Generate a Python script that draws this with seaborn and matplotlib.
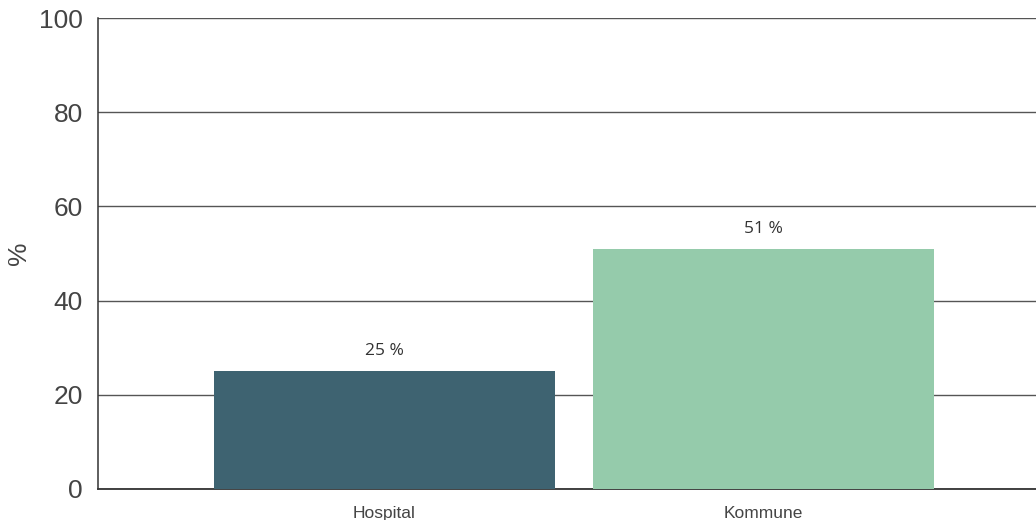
import matplotlib
matplotlib.use("Agg")
import matplotlib.pyplot as plt
import seaborn as sns
import pandas as pd

categories = ["Hospital", "Kommune"]
values = [25, 51]
bar_labels = ["25 %", "51 %"]
colors = ["#3e6371", "#95cbab"]

sns.set_style("white")
plt.rcParams['font.family'] = ['Liberation Sans', 'DejaVu Sans']

df = pd.DataFrame({"kategori": categories, "andel": values})

fig = plt.figure(figsize=(10.36, 5.2), dpi=100)
ax = fig.add_axes([98 / 1036, 1 - 489 / 520, 1 - 98 / 1036, (489 - 18) / 520])

sns.barplot(data=df, x="kategori", y="andel", hue="kategori", palette=colors,
            legend=False, width=0.9, saturation=1, linewidth=0, ax=ax, zorder=3)

for i, (v, lab) in enumerate(zip(values, bar_labels)):
    ax.text(i, v + 2.5, lab, ha="center", va="bottom", fontsize=12.5,
            color="#333333", family=["Open Sans", "DejaVu Sans"])

ax.set_ylim(0, 100)
ax.set_xlim(-0.755, 1.72)
ax.set_yticks([0, 20, 40, 60, 80, 100])
ax.yaxis.grid(True, color="#555555", linewidth=1.0, zorder=0)
ax.set_axisbelow(True)

ax.tick_params(axis="y", labelsize=19, colors="#444444", length=0, pad=11)
ax.tick_params(axis="x", labelsize=12.5, colors="#444444", length=0, pad=12)
ax.set_xlabel("")
ax.set_ylabel("%", fontsize=19, color="#444444", labelpad=6)

for s in ["top", "right"]:
    ax.spines[s].set_visible(False)
ax.spines["left"].set_color("#333333")
ax.spines["bottom"].set_color("#333333")
ax.spines["left"].set_linewidth(1.1)
ax.spines["bottom"].set_linewidth(1.3)

fig.savefig("out.png", dpi=100)
